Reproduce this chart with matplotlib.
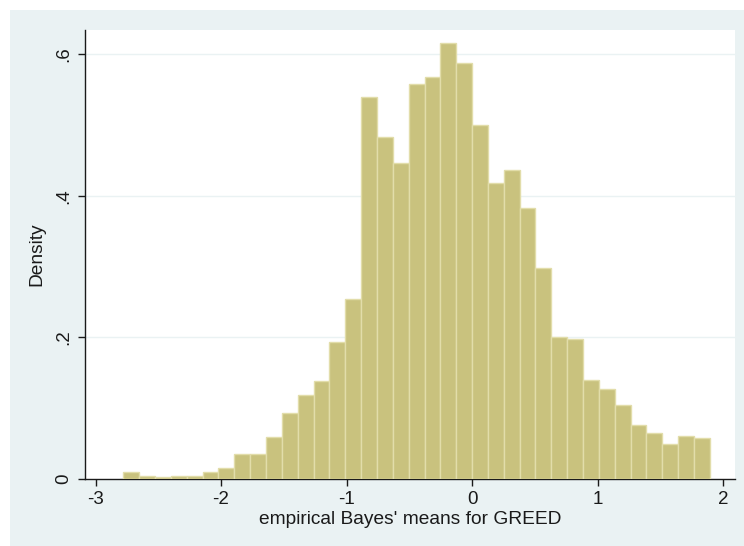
#!/usr/bin/env python3
# Stata-style density histogram of empirical Bayes' means for GREED.

import numpy as np
import matplotlib
matplotlib.use("Agg")
import matplotlib.pyplot as plt
from matplotlib.patches import Rectangle

plt.rcParams["font.family"] = ["Liberation Sans", "DejaVu Sans"]

# ---------------------------------------------------------------------------
# Data
# ---------------------------------------------------------------------------

BIN_START = -2.778
BIN_WIDTH = 0.1263

DENSITY = [
    0.0095, 0.0047, 0.0024, 0.0047, 0.0047, 0.0095, 0.0157, 0.036, 0.036,
    0.060, 0.093, 0.118, 0.139, 0.1935, 0.2537, 0.540, 0.483, 0.447,
    0.558, 0.568, 0.6155, 0.587, 0.500, 0.418, 0.436, 0.383, 0.298,
    0.200, 0.198, 0.140, 0.127, 0.1046, 0.0758, 0.0645, 0.049, 0.0608,
    0.058,
]

X_TICKS = [-3, -2, -1, 0, 1, 2]
Y_TICKS = [0, 0.2, 0.4, 0.6]
Y_TICK_LABELS = ["0", ".2", ".4", ".6"]

XLABEL = "empirical Bayes' means for GREED"
YLABEL = "Density"

BAR_COLOR = "#C9C27E"
EDGE_COLOR = "#E2DDAA"
BG_COLOR = "#EAF2F3"
INK = "#1a1a1a"

# ---------------------------------------------------------------------------
# Chart
# ---------------------------------------------------------------------------

W, H = 744, 546
fig = plt.figure(figsize=(W / 100, H / 100), dpi=100)
fig.patch.set_facecolor("white")
fig.patches.append(Rectangle((10 / W, -0.01), 1.01 - 10 / W, 1.01 - 10 / H,
                             transform=fig.transFigure, facecolor=BG_COLOR,
                             edgecolor="none", zorder=-10))

ax = fig.add_axes([85 / W, (H - 479) / H, 650 / W, 449 / H])
ax.set_facecolor("white")

edges = BIN_START + BIN_WIDTH * np.arange(len(DENSITY))
ax.bar(edges, DENSITY, width=BIN_WIDTH, align="edge", color=BAR_COLOR,
       edgecolor=EDGE_COLOR, linewidth=1.0, zorder=3)

ax.set_xlim(-3.0837, 2.0956)
ax.set_ylim(0, 0.6343)

ax.set_xticks(X_TICKS)
ax.set_xticklabels([str(t) for t in X_TICKS])
ax.set_yticks(Y_TICKS)
ax.set_yticklabels(Y_TICK_LABELS, rotation=90, va="center")
for t in Y_TICKS[1:]:
    ax.axhline(t, color=BG_COLOR, linewidth=1.0, zorder=1)

for side in ("top", "right"):
    ax.spines[side].set_visible(False)
for side in ("left", "bottom"):
    ax.spines[side].set_color(INK)
    ax.spines[side].set_linewidth(1.0)

ax.tick_params(axis="both", direction="out", length=5, width=1.0,
               color=INK, labelcolor=INK, labelsize=13.5)
ax.tick_params(axis="x", pad=4)
ax.tick_params(axis="y", pad=4)

ax.set_xlabel(XLABEL, fontsize=13.8, color=INK, labelpad=2)
ax.set_ylabel(YLABEL, fontsize=13.8, color=INK, labelpad=7)

fig.savefig("out.png", dpi=100, facecolor=fig.get_facecolor())
